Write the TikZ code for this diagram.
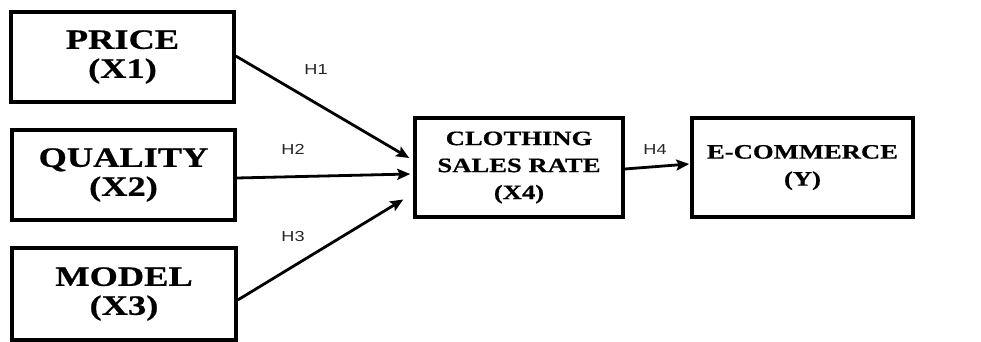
\documentclass[tikz,border=0pt]{standalone}
\usepackage{fontspec}
\setmainfont{Liberation Serif}
\newfontfamily\boxfont[FakeStretch=1.3,FakeBold=0.6]{Liberation Serif}
\newfontfamily\labfont[FakeStretch=1.25]{Liberation Sans}
\usetikzlibrary{arrows.meta}
\begin{document}
\begin{tikzpicture}[x=1pt,y=-1pt,
  box/.style={draw, line width=3.5pt, inner sep=0pt, align=center,
    font=\boxfont\bfseries\fontsize{28}{29}\selectfont},
  smallbox/.style={box, font=\boxfont\bfseries\fontsize{20.5}{27}\selectfont},
  arr/.style={line width=2.8pt, -{Stealth[length=13pt,width=11pt,inset=2.5pt]}},
  hlab/.style={font=\labfont\fontsize{14.5}{14.5}\selectfont, inner sep=0pt, text=black!85}]
\useasboundingbox (0,0) rectangle (981,342);
\node[box, minimum width=223pt, minimum height=90pt] (price) at (122.5,57) {PRICE\\(X1)};
\node[box, minimum width=223pt, minimum height=90pt] (quality) at (123.5,175) {QUALITY\\(X2)};
\node[box, minimum width=224pt, minimum height=92pt] (model) at (124,294) {MODEL\\(X3)};
\node[smallbox, minimum width=208pt, minimum height=99pt] (cloth) at (519,167.5) {CLOTHING\\SALES RATE\\(X4)};
\node[smallbox, minimum width=221pt, minimum height=99pt] (ecom) at (802.5,167.5) {E-COMMERCE\\(Y)};
\draw[arr] ([yshift=1pt]price.east) -- ([xshift=-4pt,yshift=9.5pt]cloth.west);
\draw[arr] ([yshift=-3pt]quality.east) -- ([xshift=-3pt,yshift=-6.5pt]cloth.west);
\draw[arr] ([yshift=-6pt]model.east) -- ([xshift=-10pt,yshift=-32pt]cloth.west);
\draw[arr] ([yshift=-1.5pt]cloth.east) -- ([xshift=-1pt,yshift=3.5pt]ecom.west);
\node[hlab] (h1) at (316,70) {H1};
\node[hlab] (h2) at (293,149) {H2};
\node[hlab] (h3) at (293,237) {H3};
\node[hlab] (h4) at (655,150) {H4};
\end{tikzpicture}
\end{document}
